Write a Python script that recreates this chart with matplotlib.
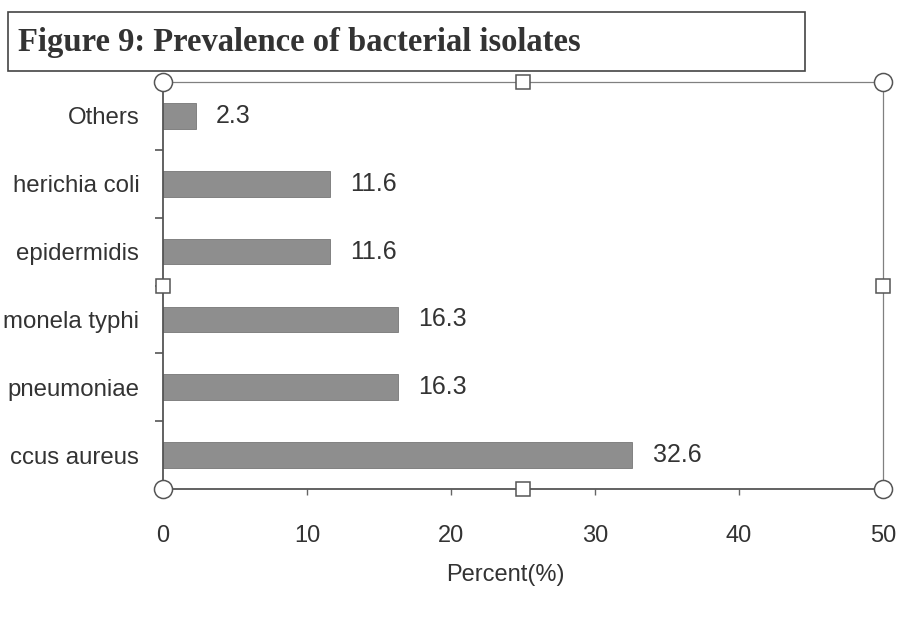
import numpy as np
import matplotlib
matplotlib.use("Agg")
import matplotlib.pyplot as plt
from matplotlib.patches import Rectangle

# data (top to bottom as in the chart); names are cut at the left edge in the source
organisms = ["Others", "herichia coli", "epidermidis",
             "monela typhi", "pneumoniae", "ccus aureus"]
percent = [2.3, 11.6, 11.6, 16.3, 16.3, 32.6]
x_ticks = [0, 10, 20, 30, 40, 50]

TXT = "#333333"
plt.rcParams["font.family"] = ["Liberation Sans", "DejaVu Sans"]

fig = plt.figure(figsize=(9.11, 6.29), dpi=100)
fig.patch.set_facecolor("white")

# title box
fig.patches.append(Rectangle((0.0088, 0.887), 0.875, 0.094, transform=fig.transFigure,
                             facecolor="white", edgecolor="#444444", linewidth=1.2))
fig.text(0.020, 0.933, "Figure 9: Prevalence of bacterial isolates",
         family="Liberation Serif", fontweight="bold", fontsize=23.5,
         color=TXT, va="center", ha="left")

ax = fig.add_axes([0.1789, 0.2226, 0.7903, 0.647])
ypos = np.arange(len(organisms))
bars = ax.barh(ypos, percent, height=0.38, color="#8e8e8e",
               edgecolor="#777777", linewidth=0.6)

for y, v in zip(ypos, percent):
    ax.annotate(f"{v}", (v, y), xytext=(14.5, 0), textcoords="offset points",
                va="center", ha="left", fontsize=18, color=TXT)

ax.set_xlim(0, 50)
ax.set_ylim(len(organisms) - 0.5, -0.5)
ax.set_xticks(x_ticks)
ax.set_xticklabels([str(t) for t in x_ticks], fontsize=17, color=TXT)
ax.set_yticks(ypos)
ax.set_yticklabels(organisms, fontsize=17.3, color=TXT)
ax.set_yticks(np.arange(-0.5, len(organisms), 1.0), minor=True)
ax.tick_params(axis="y", which="major", length=0, pad=17)
ax.tick_params(axis="y", which="minor", length=6, width=1.2, color="#555555", direction="out")
ax.tick_params(axis="x", which="major", length=4, width=1.0, color="#666666",
               direction="out", pad=22)

ax.set_xlabel("Percent(%)", fontsize=17, color=TXT)
ax.xaxis.set_label_coords(0.475, -0.185)

for side in ["left", "bottom"]:
    ax.spines[side].set_color("#555555")
    ax.spines[side].set_linewidth(1.3)
for side in ["top", "right"]:
    ax.spines[side].set_color("#808080")
    ax.spines[side].set_linewidth(0.9)

# selection handles around the plot area
for xh, yh in [(0, 0), (1, 0), (0, 1), (1, 1)]:
    ax.plot(xh, yh, marker="o", markersize=13, markerfacecolor="white",
            markeredgecolor="#555555", markeredgewidth=1.1,
            transform=ax.transAxes, clip_on=False, zorder=5)
for xh, yh in [(0.5, 0), (0.5, 1), (0, 0.5), (1, 0.5)]:
    ax.plot(xh, yh, marker="s", markersize=10.5, markerfacecolor="white",
            markeredgecolor="#555555", markeredgewidth=1.1,
            transform=ax.transAxes, clip_on=False, zorder=5)

fig.savefig("out.png", dpi=100, facecolor="white")
